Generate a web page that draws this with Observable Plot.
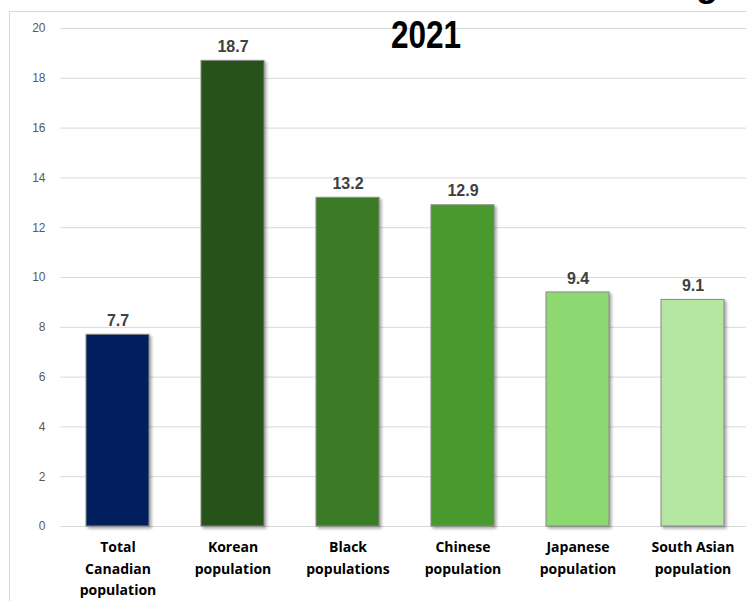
<!DOCTYPE html>
<html>
<head>
<meta charset="utf-8">
<script src="https://cdn.jsdelivr.net/npm/d3@7"></script>
<script src="https://cdn.jsdelivr.net/npm/@observablehq/plot@0.6"></script>
<style>
  html, body { margin: 0; padding: 0; background: #fff; overflow: hidden; }
  #wrap { position: relative; width: 746px; height: 601px; overflow: hidden; font-family: "Liberation Sans", Arial, sans-serif; }
  #frame { position: absolute; left: 9px; top: 11px; width: 800px; height: 700px; border: 1px solid #d9d9d9; box-sizing: border-box; pointer-events: none; }
  #title { position: absolute; left: 426px; top: 16px; font-size: 38px; line-height: 38px; font-weight: bold; color: #000; transform: translateX(-50%) scaleX(0.83); white-space: nowrap; }
  #cut { position: absolute; left: 696px; top: -34px; font-size: 36px; line-height: 36px; font-weight: bold; color: #000; white-space: nowrap; }
  #chart { position: absolute; left: 0; top: 0; }
  g[aria-label="bar"] rect { filter: drop-shadow(2px 2px 1.5px rgba(0,0,0,0.35)); }
</style>
</head>
<body>
<div id="wrap">
  <div id="chart"></div>
  <div id="frame"></div>
  <div id="title">2021</div>
  <div id="cut">g</div>
</div>
<script>
const categories = ["Total Canadian population", "Korean population", "Black populations", "Chinese population", "Japanese population", "South Asian population"];
const xTickLabels = ["Total\nCanadian\npopulation", "Korean\npopulation", "Black\npopulations", "Chinese\npopulation", "Japanese\npopulation", "South Asian\npopulation"];
const values = [7.7, 18.7, 13.2, 12.9, 9.4, 9.1];
const barColors = ["#001f5c", "#27521a", "#3b7b25", "#489a2f", "#8ed872", "#b4e5a1"];
const yTicks = [0, 2, 4, 6, 8, 10, 12, 14, 16, 18, 20];

const data = categories.map((c, i) => ({category: c, value: values[i], color: barColors[i]}));

const chart = Plot.plot({
  width: 746,
  height: 601,
  marginLeft: 60,
  marginRight: 0,
  marginTop: 28,
  marginBottom: 75,
  style: {fontFamily: "'Liberation Sans', Arial, sans-serif", background: "transparent", overflow: "visible"},
  x: {domain: categories, range: [60, 750], paddingInner: 0.45, paddingOuter: 0.225, label: null},
  y: {domain: [0, 20], range: [526, 28], label: null},
  marks: [
    Plot.gridY(yTicks, {stroke: "#d9d9d9", strokeOpacity: 1, strokeWidth: 1}),
    Plot.axisY({ticks: yTicks, tickSize: 0, tickPadding: 15, fontSize: 12, color: "#595959", label: null}),
    Plot.axisX({tickSize: 0, tickPadding: 10, fontSize: 14, fontWeight: "bold", fontFamily: "'Open Sans', sans-serif", lineHeight: 1.55, color: "#000", label: null,
      tickFormat: d => xTickLabels[categories.indexOf(d)]}),
    Plot.barY(data, {x: "category", y: "value", fill: "color", stroke: "#8a8a8a", strokeWidth: 1}),
    Plot.text(data, {x: "category", y: "value", text: d => d.value.toFixed(1), dy: -14, fontSize: 16, fontWeight: "bold", fill: "#404040"})
  ]
});
document.getElementById("chart").appendChild(chart);
</script>
</body>
</html>
